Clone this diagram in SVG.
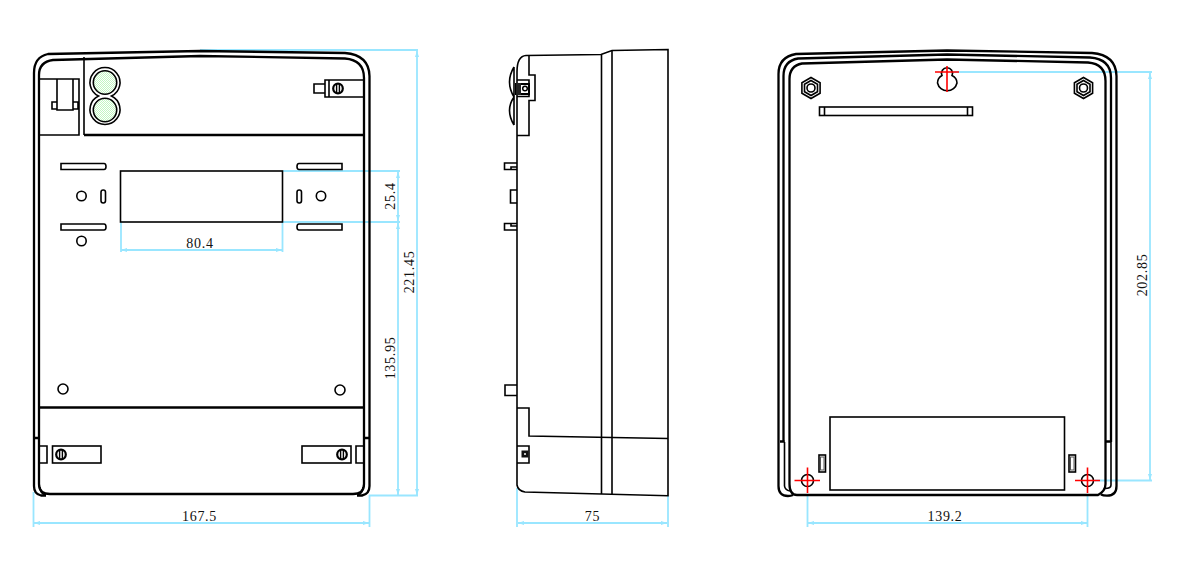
<svg xmlns="http://www.w3.org/2000/svg" width="1182" height="578" viewBox="0 0 1182 578">
<style>
.l{fill:none;stroke:#000;stroke-width:1.6}
.t{fill:none;stroke:#000;stroke-width:2.3}
.w{fill:#fff;stroke:#000;stroke-width:1.6}
.k{fill:none;stroke:#000;stroke-width:2.6}
.d{fill:none;stroke:#99e6ff;stroke-width:1.8}
.a{fill:none;stroke:#99e6ff;stroke-width:1.8;marker-start:url(#as);marker-end:url(#ae)}
.r{fill:none;stroke:#f00;stroke-width:1.6}
text{font-family:"Liberation Serif","DejaVu Serif",serif;font-size:14px;letter-spacing:.7px;fill:#111;text-anchor:middle}
</style>
<defs>
<marker id="ae" markerUnits="userSpaceOnUse" markerWidth="7" markerHeight="5" refX="6" refY="2.5" orient="auto"><path d="M0,.5L6,2.500L0,4.500z" fill="#99e6ff"/></marker>
<marker id="as" markerUnits="userSpaceOnUse" markerWidth="7" markerHeight="5" refX="0" refY="2.5" orient="auto"><path d="M6,.5L0,2.500L6,4.500z" fill="#99e6ff"/></marker>
<pattern id="g" width="2" height="2" patternUnits="userSpaceOnUse"><rect width="2" height="2" fill="#fff"/><rect width="1" height="1" fill="#c2f7c2"/><rect x="1" y="1" width="1" height="1" fill="#c2f7c2"/></pattern>
<g id="screw"><circle r="4.8" fill="#fff" stroke="#000" stroke-width="2.2"/><path d="M-1.4,-4.5V4.5M1.4,-4.5V4.5" stroke="#000" stroke-width="1.4"/></g>
<polygon id="hex" points="0,-10.5 9.1,-5.25 9.1,5.25 0,10.5 -9.1,5.25 -9.1,-5.25"/>
</defs>

<g id="connectors">
<path class="d" d="M200,50H418M369,495.500H418M283,171H400M283,222H400M121,222V252M282.5,222V252M33.5,492V527M369.5,495V527M517,488V527M668,495V527M807.5,494V527M1087.5,494V527M953,72H1152M1095,480.500H1152"/>
<path class="a" d="M417,51V495"/><path class="a" d="M398,172V221"/><path class="a" d="M398,223V495"/>
<path class="a" d="M121,250H282"/><path class="a" d="M34,523H369"/><path class="a" d="M518,523H667"/><path class="a" d="M808,523H1087"/><path class="a" d="M1150,73V480"/>
</g>

<g id="front-view">
<path class="t" d="M34,438V73Q34,57 48,54L200,51L345,53Q369,55 369.500,76V438"/>
<path class="t" d="M39,438V75Q39,62 53,60L200,56L345,58.500Q364,60 364,78V438"/>
<path class="t" d="M34,438H39M364,438H369.500"/>
<path class="t" d="M34,438V486Q34,494 41,495.500H46M369.500,438V486Q369.500,494 362,495.500H357"/>
<path class="t" d="M39,438V484Q39,494 50,494H353Q364,494 364,484V438"/>
<path class="l" d="M40,487Q40,494 46,495M363,487Q363,494 357,495"/>
<g id="front-top-left">
<path class="l" d="M39,79H79V135H39M57,79V110H73V79M57,102H52V109H57M73,102H78V109H73M84,57V135"/>
<path class="t" d="M84,135H364"/>
</g>
<g id="front-leds">
<path class="w" d="M98.500,96A15,15 0 1 1 111.500,96A15,15 0 1 1 98.500,96Z"/>
<circle cx="105" cy="82.500" r="11.700" fill="url(#g)" stroke="#000" stroke-width="1.600"/>
<circle cx="105" cy="110" r="11.700" fill="url(#g)" stroke="#000" stroke-width="1.600"/>
</g>
<g id="front-screw-top">
<path class="l" d="M364,80H325V97H364M329,80V97M325,84H314V93H325"/>
<use href="#screw" x="338" y="88.500"/>
</g>
<g id="front-window"><rect class="l" x="120.500" y="171" width="162" height="51"/></g>
<g id="front-slots">
<path class="l" d="M61,163.500H104Q106,163.500 106,166.500Q106,169.500 104,169.500H61Z"/>
<path class="l" d="M61,224H104Q106,224 106,227Q106,230 104,230H61Z"/>
<path class="l" d="M342,163.500H299Q297,163.500 297,166.500Q297,169.500 299,169.500H342Z"/>
<path class="l" d="M342,224H299Q297,224 297,227Q297,230 299,230H342Z"/>
<rect class="l" x="101" y="190" width="4.500" height="13" rx="2.200"/>
<rect class="l" x="297" y="190" width="4.500" height="13" rx="2.200"/>
<circle class="l" cx="81.500" cy="196" r="4.700"/>
<circle class="l" cx="321" cy="196" r="4.700"/>
<circle class="l" cx="81.500" cy="241" r="4.700"/>
<circle class="l" cx="63" cy="389" r="5"/>
<circle class="l" cx="340" cy="390" r="5"/>
</g>
<g id="front-terminal">
<path class="t" d="M39,407.500H364"/>
<path class="l" d="M39,446H47V463H39M364,446H356V463H364"/>
<rect class="l" x="52.500" y="446" width="48.500" height="17"/>
<rect class="l" x="302" y="446" width="49" height="17"/>
<use href="#screw" x="61" y="454.500"/>
<use href="#screw" x="342" y="454.500"/>
</g>
</g>

<g id="side-view">
<path class="l" d="M517,72Q517,56 526,55.500L601,54.500L612,50.500L668,49.500V495.700L525,492Q518,491 517,485Z"/>
<path class="l" d="M601.500,54.500V494M612,50.500V494.500"/>
<path class="l" d="M529,56V75H535V100.500H529V135.500H517"/>
<path class="l" d="M517,408H529V436L668,438.500"/>
<path class="l" d="M517,446H529V463H517"/>
<rect x="521.500" y="450.500" width="7" height="7" fill="#111"/><circle cx="525" cy="454" r="1" fill="#fff"/>
<g id="side-led">
<path class="l" d="M514,67V125M514,67Q505,82 514,97Q505,110 514,125"/>
<path class="l" d="M517,80H529V96.500H517"/>
<rect x="516" y="84" width="13" height="10" fill="#fff" stroke="#000" stroke-width="2"/>
<rect x="516" y="83" width="5" height="12" fill="#222"/>
<circle cx="525" cy="88.500" r="2.300" fill="none" stroke="#000" stroke-width="1.500"/>
</g>
<g id="side-tabs">
<path class="l" d="M517,163H504.500V169.500H517M511,169.500V167H517"/>
<path class="l" d="M517,190H510.500V203H517"/>
<path class="l" d="M517,223.500H504.500V230H517M511,223.500V226H517"/>
<path class="l" d="M517,385H505V395.500H517"/>
</g>
</g>

<g id="rear-view">
<path class="t" d="M778.500,486V74Q778.500,57 796,54L947,50.500L1092,53Q1116,55 1116.500,76V486Q1116.500,495.700 1107,495.700Q1103,495.700 1101,494.500"/>
<path class="t" d="M783.500,442V76Q783.500,61 798,58.500L947,54.500L1090,57.500Q1111,59 1111,78V442"/>
<path class="t" d="M789.500,484V79Q789.500,66 802,63.500L947,59.500L1088,62.500Q1105.500,64 1105.500,81V484Q1105.500,491 1098,495H797Q789.500,495 789.500,484Z"/>
<path class="t" d="M778.500,486Q778.500,496 788,496Q791,496 793,495"/>
<path class="k" d="M780,441.500H784.500M1106,441.500H1111"/>
<path class="l" d="M784.500,442V486Q785,490 790,491M1111,442V485Q1111,488.500 1105,488.500"/>
<g id="rear-keyhole">
<path class="l" d="M942,75.500A5.500,5.500 0 1 1 952,75.500Q957,78 957,83A10,10 0 0 1 937.500,83Q937.500,78 942,75.500Z"/>
<path class="r" d="M935,72H959M947,66V92"/>
</g>
<g id="rear-nut-left">
<use href="#hex" x="811" y="88" class="l"/>
<polygon class="l" points="811,80.500 817.500,84.250 817.500,91.750 811,95.500 804.500,91.750 804.500,84.250"/>
<circle class="l" cx="811" cy="88" r="4"/>
</g>
<g id="rear-nut-right">
<use href="#hex" x="1083.500" y="88" class="l"/>
<polygon class="l" points="1083.500,80.500 1090,84.250 1090,91.750 1083.500,95.500 1077,91.750 1077,84.250"/>
<circle class="l" cx="1083.500" cy="88" r="4"/>
</g>
<g id="rear-slot">
<rect class="l" x="819.500" y="107" width="153" height="8.500"/>
<path class="l" d="M824.500,107V115.500M967.500,107V115.500"/>
</g>
<g id="rear-cover"><rect class="l" x="830" y="417" width="234.500" height="73"/></g>
<g id="rear-clips">
<rect class="l" x="819" y="455" width="6.500" height="17"/><rect x="820.500" y="457" width="3.500" height="13" fill="none" stroke="#555"/>
<rect class="l" x="1069" y="455" width="6.500" height="17"/><rect x="1070.500" y="457" width="3.500" height="13" fill="none" stroke="#555"/>
</g>
<g id="rear-hole-left">
<circle class="l" cx="807.500" cy="480.500" r="6"/>
<path class="r" d="M794.500,480.500H820M807.500,467.500V493"/>
</g>
<g id="rear-hole-right">
<circle class="l" cx="1087.500" cy="480.500" r="6"/>
<path class="r" d="M1075,480.500H1100M1087.500,467.500V493"/>
</g>
</g>

<g id="labels">
<text x="200" y="247.500">80.4</text>
<text x="199.500" y="521">167.5</text>
<text x="592.500" y="521">75</text>
<text x="945" y="521">139.2</text>
<text transform="translate(394.500,196) rotate(-90)">25.4</text>
<text transform="translate(395,358) rotate(-90)">135.95</text>
<text transform="translate(414,272) rotate(-90)">221.45</text>
<text transform="translate(1147,275) rotate(-90)">202.85</text>
</g>
</svg>
